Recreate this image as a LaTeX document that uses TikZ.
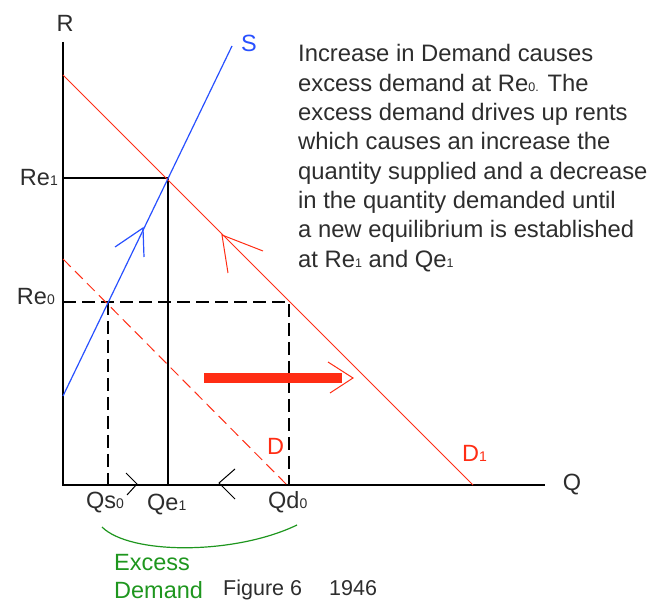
\documentclass[tikz,border=0pt]{standalone}
\usepackage{fontspec}
\setmainfont{Liberation Sans}
\definecolor{sred}{RGB}{255,45,20}
\definecolor{sblue}{RGB}{40,80,255}
\definecolor{sgreen}{RGB}{30,150,30}
\definecolor{txt}{RGB}{45,45,45}
\newcommand\lo[1]{{\fontsize{14}{14}\selectfont #1}}
\newcommand\tlo[1]{{\fontsize{12.5}{12.5}\selectfont #1}}
\begin{document}
\begin{tikzpicture}[x=1pt,y=-1pt,
  lab/.style={font=\fontsize{23.5}{23.5}\selectfont, text=txt, inner sep=0pt},
  para/.style={font=\fontsize{23.8}{23.8}\selectfont, text=txt, inner sep=0pt, anchor=base west},
  axis/.style={black, line width=1.4pt},
  guide/.style={black, line width=1.3pt},
  dguide/.style={black, line width=1.3pt, dash pattern=on 13pt off 6pt},
  dem/.style={sred, line width=1pt},
  sup/.style={sblue, line width=1.2pt}]
\useasboundingbox (0,0) rectangle (649,604);
% key points
\coordinate (O) at (63,485);
\coordinate (Rtop) at (63,42);
\coordinate (Qend) at (545,485);
\coordinate (D1a) at (63,75);
\coordinate (D1b) at (473,485);
\coordinate (Da) at (63,259);
\coordinate (Db) at (287,485);
\coordinate (Sa) at (63,396);
\coordinate (Sb) at (232,46);
\coordinate (E1) at (168,178);
\coordinate (Re1y) at (63,178);
\coordinate (Qe1x) at (168,485);
\coordinate (Re0y) at (63,302);
\coordinate (E0) at (108,302);
\coordinate (Qs0x) at (108,485);
\coordinate (Qd0p) at (289,302);
\coordinate (Qd0x) at (289,485);
% axes
\draw[axis] (Rtop) -- (O) -- (Qend);
% guides
\draw[guide] (Re1y) -- (E1) -- (Qe1x);
\draw[dguide] (Re0y) -- (Qd0p) -- (Qd0x);
\draw[dguide] (E0) -- (Qs0x);
% curves
\draw[dem] (D1a) -- (D1b);
\draw[dem, dash pattern=on 11pt off 6pt] (Da) -- (Db);
\draw[sup] (Sa) -- (Sb);
% direction arrows
\draw[sup] (115,247) -- (143,228) -- (144,257);
\draw[dem] (263,251) -- (222,235) -- (228,273);
\draw[black, line width=1pt] (126,473) -- (137,484) -- (127,495);
\draw[black, line width=1pt] (235,469) -- (219,483) -- (235,499);
% big shift arrow
\draw[sred, line width=10pt] (204,378) -- (342,378);
\draw[dem] (328,362) -- (353,378) -- (330,393);
% excess demand brace
\coordinate (Ga) at (102,527);
\coordinate (Gb) at (297,525);
\draw[sgreen, line width=1.2pt] (Ga) .. controls (130,555) and (235,555) .. (Gb);
% labels
\node[lab] (lR) at (65,23) {R};
\node[lab] (lQ) at (572,485) {Q};
\node[lab, text=sblue] (lS) at (249,43) {S};
\node[lab, anchor=base east] (lRe1) at (58,186) {Re\lo{1}};
\node[lab, anchor=base east] (lRe0) at (55,305) {Re\lo{0}};
\node[lab, anchor=base west] (lQs0) at (86,509) {Qs\lo{0}};
\node[lab, anchor=base west] (lQe1) at (147,511) {Qe\lo{1}};
\node[lab, anchor=base west] (lQd0) at (268,508) {Qd\lo{0}};
\node[lab, text=sred, anchor=base west] (lD) at (267,455) {D};
\node[lab, text=sred, anchor=base west] (lD1) at (462,462) {D\lo{1}};
\node[lab, text=sgreen, anchor=base west] (lEx) at (114,570) {Excess};
\node[lab, text=sgreen, anchor=base west] (lDm) at (114,598) {Demand};
\node[lab, anchor=base west, font=\fontsize{21.5}{21.5}\selectfont] (lFig) at (223,595) {Figure 6};
\node[lab, anchor=base west, font=\fontsize{21.5}{21.5}\selectfont] (lYr) at (329,595) {1946};
% explanation
\node[para] (p1) at (298,62) {Increase in Demand causes};
\node[para] (p2) at (298,91.3) {excess demand at Re\tlo{0.} The};
\node[para] (p3) at (298,120.6) {excess demand drives up rents};
\node[para] (p4) at (298,149.9) {which causes an increase the};
\node[para] (p5) at (298,179.2) {quantity supplied and a decrease};
\node[para] (p6) at (298,208.5) {in the quantity demanded until};
\node[para] (p7) at (298,237.8) {a new equilibrium is established};
\node[para] (p8) at (298,267.1) {at Re\tlo{1} and Qe\tlo{1}};
\end{tikzpicture}
\end{document}
